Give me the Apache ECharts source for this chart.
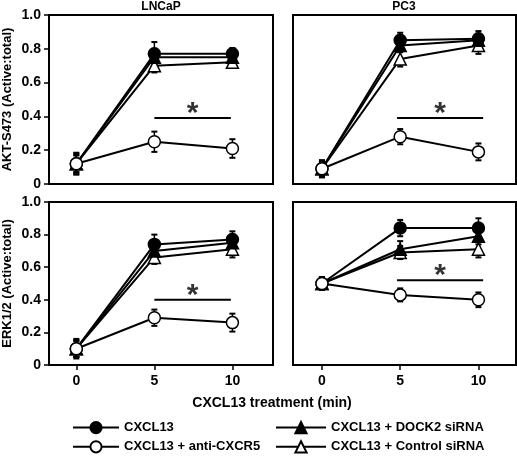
<!DOCTYPE html>
<html><head><meta charset="utf-8">
<script src="https://cdn.jsdelivr.net/npm/echarts@6/dist/echarts.min.js"></script>
<style>html,body{margin:0;padding:0;background:#fff}#c{width:517px;height:457px}</style>
</head><body><div id="c"></div>
<script>
// ---------- data ----------
const minutes = [0, 5, 10];
const seriesNames = ['CXCL13', 'CXCL13 + anti-CXCR5', 'CXCL13 + DOCK2 siRNA', 'CXCL13 + Control siRNA'];
const panelTitles = ['LNCaP', 'PC3'];
const yAxisNames = ['AKT-S473 (Active:total)', 'ERK1/2 (Active:total)'];
const xAxisName = 'CXCL13 treatment (min)';
const xTicks = [0, 5, 10];

// LNCaP, AKT-S473
const lncapAktCXCL13 = [0.12, 0.77, 0.77];
const lncapAktAnti = [0.12, 0.25, 0.21];
const lncapAktDock2 = [0.12, 0.75, 0.75];
const lncapAktControl = [0.12, 0.70, 0.72];
const lncapAktCXCL13Err = [0.06, 0.07, 0.035];
const lncapAktAntiErr = [0.065, 0.06, 0.055];
const lncapAktDock2Err = [0.05, 0.05, 0.03];
const lncapAktControlErr = [0.05, 0.04, 0.03];

// PC3, AKT-S473
const pc3AktCXCL13 = [0.09, 0.85, 0.86];
const pc3AktAnti = [0.09, 0.28, 0.19];
const pc3AktDock2 = [0.09, 0.82, 0.85];
const pc3AktControl = [0.09, 0.74, 0.82];
const pc3AktCXCL13Err = [0.05, 0.045, 0.045];
const pc3AktAntiErr = [0.05, 0.045, 0.05];
const pc3AktDock2Err = [0.04, 0.04, 0.04];
const pc3AktControlErr = [0.04, 0.045, 0.05];

// LNCaP, ERK1/2
const lncapErkCXCL13 = [0.10, 0.74, 0.77];
const lncapErkAnti = [0.10, 0.29, 0.26];
const lncapErkDock2 = [0.10, 0.70, 0.75];
const lncapErkControl = [0.10, 0.66, 0.71];
const lncapErkCXCL13Err = [0.05, 0.06, 0.05];
const lncapErkAntiErr = [0.06, 0.05, 0.055];
const lncapErkDock2Err = [0.05, 0.05, 0.05];
const lncapErkControlErr = [0.05, 0.04, 0.05];

// PC3, ERK1/2
const pc3ErkCXCL13 = [0.50, 0.84, 0.84];
const pc3ErkAnti = [0.50, 0.43, 0.40];
const pc3ErkDock2 = [0.50, 0.71, 0.79];
const pc3ErkControl = [0.50, 0.69, 0.71];
const pc3ErkCXCL13Err = [0.04, 0.05, 0.06];
const pc3ErkAntiErr = [0.04, 0.04, 0.045];
const pc3ErkDock2Err = [0.04, 0.05, 0.05];
const pc3ErkControlErr = [0.04, 0.04, 0.05];

// significance bars (x from, x to, y) and asterisk anchor height
const sigStartX = [5, 4.8, 5, 4.8];
const sigEndX = [9.9, 10.3, 9.9, 10.3];
const sigBarY = [0.39, 0.39, 0.40, 0.52];
const sigStarY = [0.415, 0.415, 0.425, 0.545];

// ---------- build ----------
const panelValues = [
  [lncapAktCXCL13, lncapAktAnti, lncapAktDock2, lncapAktControl],
  [pc3AktCXCL13, pc3AktAnti, pc3AktDock2, pc3AktControl],
  [lncapErkCXCL13, lncapErkAnti, lncapErkDock2, lncapErkControl],
  [pc3ErkCXCL13, pc3ErkAnti, pc3ErkDock2, pc3ErkControl]
];
const panelErrors = [
  [lncapAktCXCL13Err, lncapAktAntiErr, lncapAktDock2Err, lncapAktControlErr],
  [pc3AktCXCL13Err, pc3AktAntiErr, pc3AktDock2Err, pc3AktControlErr],
  [lncapErkCXCL13Err, lncapErkAntiErr, lncapErkDock2Err, lncapErkControlErr],
  [pc3ErkCXCL13Err, pc3ErkAntiErr, pc3ErkDock2Err, pc3ErkControlErr]
];

const FONT = 'Arial, "Liberation Sans", Helvetica, sans-serif';
const symbolDefs = [
  {symbol: 'circle', fill: '#000', size: 12},
  {symbol: 'circle', fill: '#fff', size: 12},
  {symbol: 'triangle', fill: '#000', size: 12},
  {symbol: 'triangle', fill: '#fff', size: 12}
];

const grids = [
  {left: 49, top: 15, width: 224, height: 169},
  {left: 293, top: 15, width: 223, height: 169},
  {left: 49, top: 202, width: 224, height: 163},
  {left: 293, top: 202, width: 223, height: 163}
].map(g => Object.assign(g, {show: true, borderColor: '#000', borderWidth: 2, backgroundColor: 'transparent'}));

const xRanges = [[-1.75, 12.6], [-1.85, 12.4], [-1.75, 12.6], [-1.85, 12.4]];
const xAxes = grids.map((g, i) => ({
  type: 'value', gridIndex: i, min: xRanges[i][0], max: xRanges[i][1],
  splitLine: {show: false},
  axisLine: {show: false, onZero: false},
  axisTick: {show: i >= 2, customValues: xTicks, length: 5, inside: false, lineStyle: {color: '#000', width: 1.5}},
  axisLabel: {show: i >= 2, customValues: xTicks, margin: 9, color: '#000', fontFamily: FONT, fontWeight: 'bold', fontSize: 14}
}));
const yAxes = grids.map((g, i) => ({
  type: 'value', gridIndex: i, min: 0, max: 1, interval: 0.2,
  splitLine: {show: false},
  axisLine: {show: false, onZero: false},
  axisTick: {show: i % 2 === 0, length: 5, inside: false, lineStyle: {color: '#000', width: 1.5}},
  axisLabel: {show: i % 2 === 0, margin: 8, color: '#000', fontFamily: FONT, fontWeight: 'bold', fontSize: 14,
    formatter: v => v === 0 ? '0' : v.toFixed(1)},
  name: i % 2 === 0 ? yAxisNames[i / 2] : '',
  nameLocation: 'middle', nameRotate: 90, nameGap: 35,
  nameTextStyle: {color: '#000', fontFamily: FONT, fontWeight: 'bold', fontSize: 13}
}));

function renderErr(params, api) {
  const x = api.value(0), lo = api.value(1), hi = api.value(2);
  const p1 = api.coord([x, hi]), p2 = api.coord([x, lo]);
  const w = 3;
  return {type: 'group', children: [
    {type: 'line', shape: {x1: p1[0], y1: p1[1], x2: p2[0], y2: p2[1]}, style: {stroke: '#000', lineWidth: 1.5}},
    {type: 'line', shape: {x1: p1[0] - w, y1: p1[1], x2: p1[0] + w, y2: p1[1]}, style: {stroke: '#000', lineWidth: 2}},
    {type: 'line', shape: {x1: p2[0] - w, y1: p2[1], x2: p2[0] + w, y2: p2[1]}, style: {stroke: '#000', lineWidth: 2}}
  ]};
}

const series = [];
panelValues.forEach((vals, p) => {
  vals.forEach((arr, s) => {
    series.push({
      type: 'custom', xAxisIndex: p, yAxisIndex: p, z: 1, silent: true,
      renderItem: renderErr,
      data: arr.map((v, k) => [minutes[k], v - panelErrors[p][s][k], v + panelErrors[p][s][k]])
    });
  });
  // draw order: control, DOCK2, CXCL13, anti-CXCR5 on top
  [3, 2, 0, 1].forEach((s, order) => {
    const sd = symbolDefs[s];
    series.push({
      type: 'line', name: seriesNames[s], xAxisIndex: p, yAxisIndex: p, z: 3 + order,
      data: vals[s].map((v, k) => [minutes[k], v]),
      symbol: sd.symbol, symbolSize: sd.size, showSymbol: true,
      lineStyle: {color: '#000', width: 2},
      itemStyle: {color: sd.fill, borderColor: '#000', borderWidth: 1.5},
      emphasis: {disabled: true}, animation: false
    });
  });
  series.push({
    type: 'line', xAxisIndex: p, yAxisIndex: p, z: 2, symbol: 'none', silent: true,
    data: [[sigStartX[p], sigBarY[p]], [sigEndX[p], sigBarY[p]]],
    lineStyle: {color: '#000', width: 2}, animation: false
  });
  series.push({
    type: 'scatter', xAxisIndex: p, yAxisIndex: p, z: 2, silent: true,
    symbolSize: 1, itemStyle: {color: 'rgba(0,0,0,0)'},
    data: [[(sigStartX[p] + sigEndX[p]) / 2, sigStarY[p]]],
    label: {show: true, position: 'inside', formatter: '*', color: '#000', fontFamily: FONT, fontWeight: 'bold', fontSize: 30},
    animation: false
  });
});

const legendText = {color: '#000', fontFamily: FONT, fontWeight: 'bold', fontSize: 13};
const option = {
  animation: false,
  backgroundColor: '#fff',
  title: [
    {text: panelTitles[0], left: 161, top: 1, padding: 0, textAlign: 'center', textStyle: {color: '#000', fontFamily: FONT, fontWeight: 'bold', fontSize: 12}},
    {text: panelTitles[1], left: 404, top: 1, padding: 0, textAlign: 'center', textStyle: {color: '#000', fontFamily: FONT, fontWeight: 'bold', fontSize: 12}},
    {text: xAxisName, left: 272, top: 396, padding: 0, textAlign: 'center', textStyle: {color: '#000', fontFamily: FONT, fontWeight: 'bold', fontSize: 14}}
  ],
  grid: grids,
  xAxis: xAxes,
  yAxis: yAxes,
  legend: [
    {data: [seriesNames[0], seriesNames[1]], orient: 'vertical', left: 72, top: 421, padding: 0,
      itemWidth: 46, itemHeight: 14, itemGap: 6, textStyle: legendText, selectedMode: false},
    {data: [seriesNames[2], seriesNames[3]], orient: 'vertical', left: 275, top: 421, padding: 0,
      itemWidth: 50, itemHeight: 14, itemGap: 6, textStyle: legendText, selectedMode: false}
  ],
  series: series
};
const chart = echarts.init(document.getElementById('c'), null, {renderer: 'canvas'});
chart.setOption(option);
</script>
</body></html>
